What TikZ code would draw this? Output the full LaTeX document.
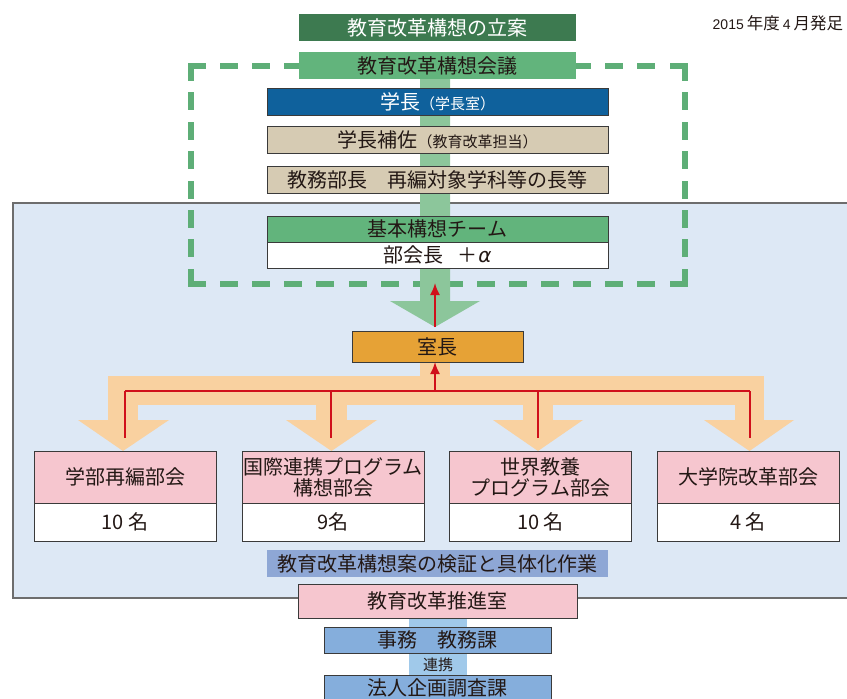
\documentclass[tikz,border=0pt]{standalone}
\usepackage{fontspec}
\setmainfont{Noto Sans CJK JP}
\newfontfamily\grkfont{DejaVu Sans}
\newfontfamily\latnfont{Liberation Sans}
\usetikzlibrary{arrows.meta}
\definecolor{txt}{HTML}{231815}
\definecolor{edge}{HTML}{3A3A3A}
\definecolor{dkgreen}{HTML}{3D7A50}
\definecolor{mdgreen}{HTML}{62B47C}
\definecolor{ltgreen}{HTML}{8CC69B}
\definecolor{dashgreen}{HTML}{5EAE77}
\definecolor{presblue}{HTML}{0F619C}
\definecolor{beige}{HTML}{D6CBB3}
\definecolor{panel}{HTML}{DDE8F5}
\definecolor{paneledge}{HTML}{6D6D6D}
\definecolor{orangebox}{HTML}{E6A236}
\definecolor{orangeband}{HTML}{F9D1A0}
\definecolor{redline}{HTML}{D0101B}
\definecolor{pinkc}{HTML}{F6C6CF}
\definecolor{labelblue}{HTML}{8EA7D5}
\definecolor{barblue}{HTML}{A0C9EA}
\definecolor{officeblue}{HTML}{85AEDC}
\tikzset{
  bx/.style={draw=edge, line width=0.9pt, inner sep=0pt, outer sep=0pt, text=txt,
    font=\fontsize{20}{21}\selectfont, align=center},
  nb/.style={bx, draw=none},
  dashside/.style={draw=dashgreen, line width=6pt, line cap=rect},
  redconn/.style={draw=redline, line width=1.8pt},
  redarrow/.style={redconn, -{Latex[length=12pt,width=10pt]}},
}
\begin{document}
\begin{tikzpicture}[x=1pt,y=-1pt]
\useasboundingbox (0,0) rectangle (847,699);

% panel
\draw[fill=panel, draw=paneledge, line width=1.5pt] (13,203) rectangle (870,598);

% date
\node[anchor=west, inner sep=0pt, text=txt, font=\fontsize{16.5}{17}\selectfont] (date) at (712.5,23) {{\latnfont\fontsize{14}{14}\selectfont 2015}\hspace{3pt}年度\hspace{3pt}{\latnfont\fontsize{14}{14}\selectfont 4}\hspace{3pt}月発足};

% dashed frame
\coordinate (dtl) at (191,66);
\coordinate (dtr) at (684.5,66);
\coordinate (dbl) at (191,284);
\coordinate (dbr) at (684.5,284);
\draw[dashside, dash pattern=on 12pt off 20.1pt] (dtl) -- (dtr);
\draw[dashside, dash pattern=on 12pt off 20.1pt] (dbl) -- (dbr);
\draw[dashside, dash pattern=on 12pt off 17.4pt] (dtl) -- (dbl);
\draw[dashside, dash pattern=on 12pt off 17.4pt] (dtr) -- (dbr);

% green bar with arrow
\fill[ltgreen] (420,79) -- (450,79) -- (450,301) -- (480,301) -- (435,327) -- (390,301) -- (420,301) -- cycle;

% light blue bar at bottom
\fill[barblue] (409,615) rectangle (467,705);

% orange band
\fill[orangeband] (420,360) rectangle (450,380);
\fill[orangeband] (108,376) rectangle (764,405);
\fill[orangeband] (108,376) rectangle (138,422);
\fill[orangeband] (78,420) -- (169,420) -- (123,451) -- cycle;
\fill[orangeband] (316,376) rectangle (347,422);
\fill[orangeband] (286,420) -- (377,420) -- (331.5,451) -- cycle;
\fill[orangeband] (523,376) rectangle (553,422);
\fill[orangeband] (493,420) -- (583,420) -- (538,451) -- cycle;
\fill[orangeband] (735,376) rectangle (764,422);
\fill[orangeband] (704,420) -- (794,420) -- (749.5,451) -- cycle;

% top boxes
\node[nb, fill=dkgreen, text=white, minimum width=277, minimum height=27] (plan) at (437.5,27.5) {教育改革構想の立案};
\node[nb, fill=mdgreen, minimum width=277, minimum height=27] (council) at (437.5,65.5) {教育改革構想会議};
\node[bx, fill=presblue, text=white, minimum width=341, minimum height=27] (pres) at (437.5,101.5) {学長{\fontsize{15}{15}\selectfont （学長室）}};
\node[bx, fill=beige, minimum width=341, minimum height=27] (asst) at (437.5,139.5) {学長補佐{\fontsize{15}{15}\selectfont （教育改革担当）}};
\node[bx, fill=beige, minimum width=341, minimum height=27] (dean) at (437.5,179.5) {教務部長　再編対象学科等の長等};
\node[bx, fill=mdgreen, minimum width=341, minimum height=26] (team) at (437.5,229) {基本構想チーム};
\node[bx, fill=white, minimum width=341, minimum height=26] (teammem) at (437.5,255) {部会長\hspace{14pt}＋\hspace{1pt}{\grkfont\itshape α}};

% head of office
\node[bx, fill=orangebox, minimum width=171, minimum height=31] (head) at (437.5,346.5) {室長};

% red connectors
\coordinate (gtip) at (435,327);
\coordinate (fbot) at (435,283);
\draw[redarrow] (gtip) -- (fbot);
\coordinate (hc) at (435,391);
\coordinate (h1) at (125,391);
\coordinate (h2) at (331,391);
\coordinate (h3) at (538,391);
\coordinate (h4) at (750,391);
\coordinate (e1) at (125,438);
\coordinate (e2) at (331,438);
\coordinate (e3) at (538,438);
\coordinate (e4) at (750,438);
\draw[redconn] (h1) -- (h4);
\draw[redconn] (h1) -- (e1);
\draw[redconn] (h2) -- (e2);
\draw[redconn] (h3) -- (e3);
\draw[redconn] (h4) -- (e4);
\draw[redarrow] (hc) -- (hc |- head.south);

% committees
\node[bx, fill=pinkc, minimum width=182, minimum height=52] (b1) at (125,477) {学部再編部会};
\node[bx, fill=white, minimum width=182, minimum height=38] (n1) at (125,522) {10 名};
\node[bx, fill=pinkc, minimum width=182, minimum height=52] (b2) at (333,477) {国際連携プログラム\\構想部会};
\node[bx, fill=white, minimum width=182, minimum height=38] (n2) at (333,522) {9名};
\node[bx, fill=pinkc, minimum width=182, minimum height=52] (b3) at (540.5,477) {世界教養\\プログラム部会};
\node[bx, fill=white, minimum width=182, minimum height=38] (n3) at (540.5,522) {10 名};
\node[bx, fill=pinkc, minimum width=182, minimum height=52] (b4) at (748,477) {大学院改革部会};
\node[bx, fill=white, minimum width=182, minimum height=38] (n4) at (748,522) {4 名};

% bottom
\node[nb, fill=labelblue, minimum width=341, minimum height=27] (work) at (437.5,563.5) {教育改革構想案の検証と具体化作業};
\node[bx, fill=pinkc, minimum width=279, minimum height=34] (promo) at (437.5,601) {教育改革推進室};
\node[bx, fill=officeblue, minimum width=227, minimum height=26] (office) at (437.5,640) {事務　教務課};
\node[inner sep=0pt, text=txt, font=\fontsize{15}{15}\selectfont] (link) at (438,665) {連携};
\node[bx, fill=officeblue, minimum width=227, minimum height=26] (corp) at (437.5,688) {法人企画調査課};
\end{tikzpicture}
\end{document}
